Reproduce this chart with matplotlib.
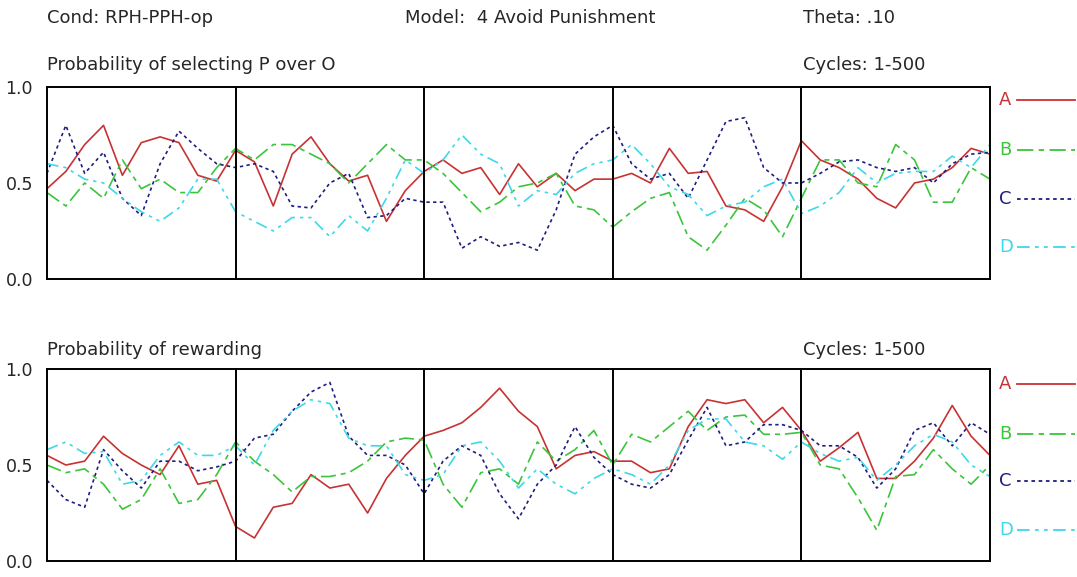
import numpy as np
import matplotlib
matplotlib.use("Agg")
import matplotlib.pyplot as plt
from matplotlib.lines import Line2D

plt.rcParams["font.family"] = ["DejaVu Sans"]

# cycles sampled every 10 steps
cycles = np.arange(0, 501, 10)
series_names = ["A", "B", "C", "D"]

# probability of selecting P over O
sel_a = [0.47, 0.56, 0.70, 0.80, 0.54, 0.71, 0.74, 0.71, 0.54, 0.51, 0.67,
         0.61, 0.38, 0.65, 0.74, 0.60, 0.51, 0.54, 0.30, 0.46, 0.56,
         0.62, 0.55, 0.58, 0.44, 0.60, 0.48, 0.55, 0.46, 0.52, 0.52,
         0.55, 0.50, 0.68, 0.55, 0.56, 0.38, 0.36, 0.30, 0.48, 0.72,
         0.62, 0.58, 0.52, 0.42, 0.37, 0.50, 0.52, 0.58, 0.68, 0.65]
sel_b = [0.45, 0.38, 0.50, 0.42, 0.62, 0.47, 0.52, 0.45, 0.45, 0.58, 0.68,
         0.62, 0.70, 0.70, 0.65, 0.60, 0.50, 0.60, 0.70, 0.62, 0.62,
         0.55, 0.45, 0.35, 0.40, 0.48, 0.50, 0.55, 0.38, 0.36, 0.27,
         0.35, 0.42, 0.45, 0.22, 0.15, 0.28, 0.42, 0.36, 0.22, 0.42,
         0.62, 0.62, 0.50, 0.48, 0.70, 0.62, 0.40, 0.40, 0.58, 0.52]
sel_c = [0.55, 0.80, 0.55, 0.66, 0.42, 0.33, 0.60, 0.77, 0.68, 0.60, 0.58,
         0.60, 0.56, 0.38, 0.37, 0.50, 0.55, 0.32, 0.33, 0.42, 0.40,
         0.40, 0.16, 0.22, 0.17, 0.19, 0.15, 0.36, 0.65, 0.74, 0.80,
         0.60, 0.52, 0.55, 0.42, 0.62, 0.82, 0.84, 0.58, 0.50, 0.50,
         0.55, 0.61, 0.62, 0.58, 0.56, 0.58, 0.50, 0.60, 0.65, 0.66]
sel_d = [0.60, 0.58, 0.52, 0.50, 0.42, 0.35, 0.30, 0.37, 0.52, 0.52, 0.35,
         0.30, 0.25, 0.32, 0.32, 0.22, 0.33, 0.25, 0.42, 0.62, 0.55,
         0.62, 0.75, 0.65, 0.60, 0.38, 0.46, 0.44, 0.55, 0.60, 0.62,
         0.70, 0.60, 0.48, 0.44, 0.33, 0.38, 0.40, 0.48, 0.52, 0.34,
         0.38, 0.45, 0.58, 0.50, 0.55, 0.56, 0.56, 0.64, 0.58, 0.70]

# probability of rewarding
rew_a = [0.55, 0.50, 0.52, 0.65, 0.56, 0.50, 0.45, 0.60, 0.40, 0.42, 0.18,
         0.12, 0.28, 0.30, 0.45, 0.38, 0.40, 0.25, 0.43, 0.55, 0.65,
         0.68, 0.72, 0.80, 0.90, 0.78, 0.70, 0.48, 0.55, 0.57, 0.52,
         0.52, 0.46, 0.48, 0.70, 0.84, 0.82, 0.84, 0.72, 0.80, 0.68,
         0.52, 0.59, 0.67, 0.43, 0.43, 0.52, 0.64, 0.81, 0.65, 0.55]
rew_b = [0.50, 0.46, 0.48, 0.40, 0.27, 0.32, 0.48, 0.30, 0.32, 0.45, 0.62,
         0.52, 0.45, 0.36, 0.44, 0.44, 0.46, 0.52, 0.62, 0.64, 0.63,
         0.40, 0.28, 0.46, 0.48, 0.40, 0.62, 0.52, 0.58, 0.68, 0.50,
         0.66, 0.62, 0.70, 0.78, 0.68, 0.75, 0.76, 0.66, 0.66, 0.67,
         0.50, 0.48, 0.33, 0.16, 0.44, 0.45, 0.58, 0.48, 0.40, 0.50]
rew_c = [0.42, 0.32, 0.28, 0.58, 0.47, 0.38, 0.52, 0.52, 0.47, 0.49, 0.52,
         0.64, 0.66, 0.78, 0.88, 0.93, 0.65, 0.55, 0.55, 0.50, 0.35,
         0.52, 0.60, 0.55, 0.35, 0.22, 0.40, 0.50, 0.70, 0.54, 0.45,
         0.40, 0.38, 0.45, 0.63, 0.80, 0.60, 0.62, 0.71, 0.71, 0.68,
         0.60, 0.60, 0.54, 0.38, 0.48, 0.68, 0.72, 0.60, 0.72, 0.66]
rew_d = [0.58, 0.62, 0.56, 0.57, 0.40, 0.42, 0.55, 0.62, 0.55, 0.55, 0.60,
         0.50, 0.68, 0.78, 0.84, 0.82, 0.64, 0.60, 0.60, 0.45, 0.42,
         0.45, 0.60, 0.62, 0.52, 0.38, 0.48, 0.40, 0.35, 0.43, 0.48,
         0.45, 0.40, 0.50, 0.68, 0.74, 0.74, 0.62, 0.60, 0.53, 0.62,
         0.56, 0.52, 0.54, 0.42, 0.50, 0.60, 0.66, 0.62, 0.50, 0.44]

colors = ["#c83232", "#3cc43c", "#1e1e80", "#3ed8e8"]
styles = ["-", (0, (9, 3, 3, 3)), (0, (2, 2)), (0, (7, 3, 2, 3, 2, 3))]
txt = "#262626"

fig = plt.figure(figsize=(10.77, 5.77), dpi=100)
ax1 = fig.add_axes([0.0436, 0.5165, 0.8756, 0.3328])
ax2 = fig.add_axes([0.0436, 0.0277, 0.8756, 0.3328])

for ax, data in [(ax1, [sel_a, sel_b, sel_c, sel_d]), (ax2, [rew_a, rew_b, rew_c, rew_d])]:
    for vals, c, ls in zip(data, colors, styles):
        ax.plot(cycles, vals, color=c, linestyle=ls, lw=1.2)
    for xv in [100, 200, 300, 400]:
        ax.axvline(xv, color="black", lw=1.4)
    ax.set_xlim(0, 500)
    ax.set_ylim(0, 1)
    ax.set_xticks([])
    ax.set_yticks([0, 0.5, 1.0])
    ax.set_yticklabels(["0.0", "0.5", "1.0"])
    ax.tick_params(axis="y", length=0, pad=10, labelsize=12.5, labelcolor=txt)
    for sp in ax.spines.values():
        sp.set_linewidth(1.4)
        sp.set_color("black")

# header lines
fs = 13
fig.text(47 / 1077, 1 - 18 / 577, "Cond: RPH-PPH-op", fontsize=fs, color=txt, va="center")
fig.text(405 / 1077, 1 - 18 / 577, "Model:  4 Avoid Punishment", fontsize=fs, color=txt, va="center")
fig.text(803 / 1077, 1 - 18 / 577, "Theta: .10", fontsize=fs, color=txt, va="center")
fig.text(47 / 1077, 1 - 65 / 577, "Probability of selecting P over O", fontsize=fs, color=txt, va="center")
fig.text(803 / 1077, 1 - 65 / 577, "Cycles: 1-500", fontsize=fs, color=txt, va="center")
fig.text(47 / 1077, 1 - 350 / 577, "Probability of rewarding", fontsize=fs, color=txt, va="center")
fig.text(803 / 1077, 1 - 350 / 577, "Cycles: 1-500", fontsize=fs, color=txt, va="center")

# legend keys beside each panel
for rows in [[100, 150, 199, 247], [384, 434, 481, 530]]:
    for name, c, ls, yp in zip(series_names, colors, styles, rows):
        yf = 1 - yp / 577
        fig.text(999 / 1077, yf, name, fontsize=fs, color=c, va="center")
        fig.add_artist(Line2D([1017 / 1077, 1075 / 1077], [yf, yf], color=c,
                              linestyle=ls, lw=1.3, transform=fig.transFigure))

fig.savefig("out.png", dpi=100)
